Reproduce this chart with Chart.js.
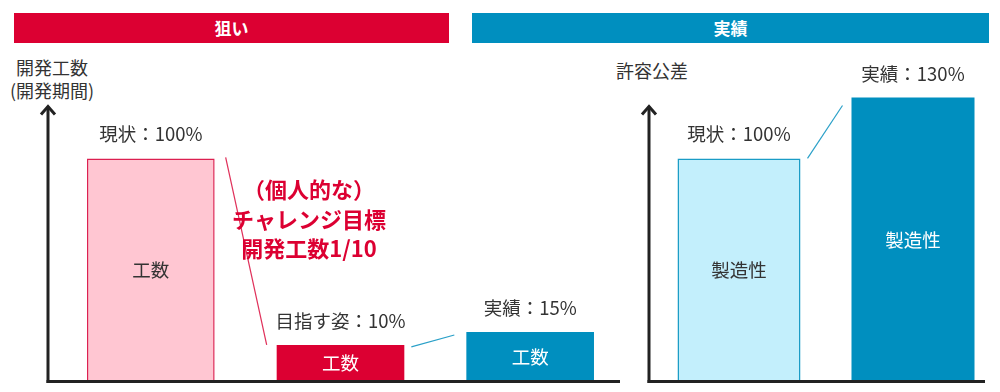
<!DOCTYPE html>
<html lang="ja">
<head>
<meta charset="utf-8">
<title>狙いと実績</title>
<script src="https://cdn.jsdelivr.net/npm/chart.js@4.4.1/dist/chart.umd.min.js"></script>
<style>
  html, body { margin: 0; padding: 0; background: #fff; }
  body { width: 1000px; height: 392px; position: relative; overflow: hidden;
         font-family: "Noto Sans CJK JP", "Noto Sans", sans-serif; color: #333; }
  .head { position: absolute; top: 13px; height: 30px; line-height: 30px; color: #fff;
          font-weight: bold; font-size: 17px; text-align: center; }
  .head.red { left: 14px; width: 435px; background: #dc0032; }
  .head.blue { left: 472px; width: 517px; background: #008fbf; }
  .axis-title { position: absolute; font-size: 18px; color: #333; text-align: center; line-height: 23px; }
  canvas { position: absolute; top: 0; }
</style>
</head>
<body>
<div class="head red">狙い</div>
<div class="head blue">実績</div>
<div class="axis-title" style="left:0px; top:56px; width:104px;">開発工数<br>(開発期間)</div>
<div class="axis-title" style="left:602px; top:59px; width:100px;">許容公差</div>

<canvas id="leftChart" width="630" height="392" style="left:0px"></canvas>
<canvas id="rightChart" width="370" height="392" style="left:630px"></canvas>

<script>
// values (bar heights as drawn, 100 = 現状)
const yMax = 130;

const leftCategories = ['現状', '目指す姿', '実績'];
const leftValues = [100, 16.4, 22.2];
const leftTopLabels = ['現状：100%', '目指す姿：10%', '実績：15%'];
const leftInnerLabels = ['工数', '工数', '工数'];

const rightCategories = ['現状', '実績'];
const rightValues = [100, 127.3];
const rightTopLabels = ['現状：100%', '実績：130%'];
const rightInnerLabels = ['製造性', '製造性'];

const challengeText = ['（個人的な）', 'チャレンジ目標', '開発工数1/10'];

const FONT = '"Noto Sans CJK JP", "Noto Sans", sans-serif';
const RED = '#dc0032';
const BLUE = '#008fbf';

// axes with arrow, bar captions and connector lines
const decorPlugin = {
  id: 'decor',
  afterDatasetsDraw(chart, args, opts) {
    const ctx = chart.ctx;
    const area = chart.chartArea;
    const bars = chart.getDatasetMeta(0).data;
    const ax = area.left - opts.axisOffset;

    ctx.save();
    // y axis + arrow, baseline
    ctx.strokeStyle = '#222';
    ctx.lineWidth = 3;
    ctx.beginPath();
    ctx.moveTo(ax, area.bottom + 1.5);
    ctx.lineTo(ax, area.top + 15);
    ctx.stroke();
    ctx.beginPath();
    ctx.moveTo(ax - 7, area.top + 23);
    ctx.lineTo(ax, area.top + 15);
    ctx.lineTo(ax + 7, area.top + 23);
    ctx.stroke();
    ctx.beginPath();
    ctx.moveTo(ax - 1.5, area.bottom);
    ctx.lineTo(area.right - opts.baseTrim, area.bottom);
    ctx.stroke();

    // connector lines between bars
    ctx.lineWidth = 1.2;
    opts.links.forEach(l => {
      const a = bars[l.from], b = bars[l.to];
      ctx.strokeStyle = l.color;
      ctx.beginPath();
      ctx.moveTo(a.x + a.width / 2 + l.gap[0], a.y + l.dy[0]);
      ctx.lineTo(b.x - b.width / 2 - l.gap[1], b.y + l.dy[1]);
      ctx.stroke();
    });

    // captions
    ctx.textAlign = 'center';
    ctx.textBaseline = 'middle';
    bars.forEach((bar, i) => {
      ctx.font = '18.5px ' + FONT;
      ctx.fillStyle = '#333';
      ctx.fillText(opts.topLabels[i], bar.x, bar.y - 24);
      ctx.fillStyle = opts.innerColors[i];
      ctx.fillText(opts.innerLabels[i], bar.x, (bar.y + bar.base) / 2);
    });

    if (opts.note) {
      ctx.font = 'bold 22px ' + FONT;
      ctx.fillStyle = RED;
      opts.note.forEach((t, i) => ctx.fillText(t, 309, 190 + i * 29.5));
    }
    ctx.restore();
  }
};

function baseOptions(padding, barPct, decor) {
  return {
    responsive: false,
    animation: false,
    layout: { padding: padding },
    plugins: { legend: { display: false }, tooltip: { enabled: false }, decor: decor },
    scales: {
      x: { display: false },
      y: { display: false, min: 0, max: yMax }
    },
    datasets: { bar: { barPercentage: barPct, categoryPercentage: 1 } }
  };
}

new Chart(document.getElementById('leftChart'), {
  type: 'bar',
  data: {
    labels: leftCategories,
    datasets: [{
      data: leftValues,
      backgroundColor: ['#ffc6d2', RED, BLUE],
      borderColor: ['#dc2050', RED, BLUE],
      borderWidth: [1.5, 0, 0],
      borderSkipped: 'bottom'
    }]
  },
  options: baseOptions({ left: 56, right: 5, top: 91.5, bottom: 10.5 }, 0.673, {
    axisOffset: 8,
    baseTrim: 5,
    topLabels: leftTopLabels,
    innerLabels: leftInnerLabels,
    innerColors: ['#333', '#fff', '#fff'],
    links: [
      { from: 0, to: 1, color: '#e0305a', gap: [11, 10], dy: [-1, 0] },
      { from: 1, to: 2, color: '#2aa0c8', gap: [7, 12], dy: [2, 3] }
    ],
    note: challengeText
  }),
  plugins: [decorPlugin]
});

new Chart(document.getElementById('rightChart'), {
  type: 'bar',
  data: {
    labels: rightCategories,
    datasets: [{
      data: rightValues,
      backgroundColor: ['#c3effc', BLUE],
      borderColor: ['#1a9cc6', BLUE],
      borderWidth: [1.5, 0],
      borderSkipped: 'bottom'
    }]
  },
  options: baseOptions({ left: 22, right: 0, top: 91.5, bottom: 10.5 }, 0.707, {
    axisOffset: 3,
    baseTrim: 15,
    topLabels: rightTopLabels,
    innerLabels: rightInnerLabels,
    innerColors: ['#333', '#fff'],
    links: [
      { from: 0, to: 1, color: '#2aa0c8', gap: [7, 9], dy: [0, 8] }
    ],
    note: null
  }),
  plugins: [decorPlugin]
});
</script>
</body>
</html>
